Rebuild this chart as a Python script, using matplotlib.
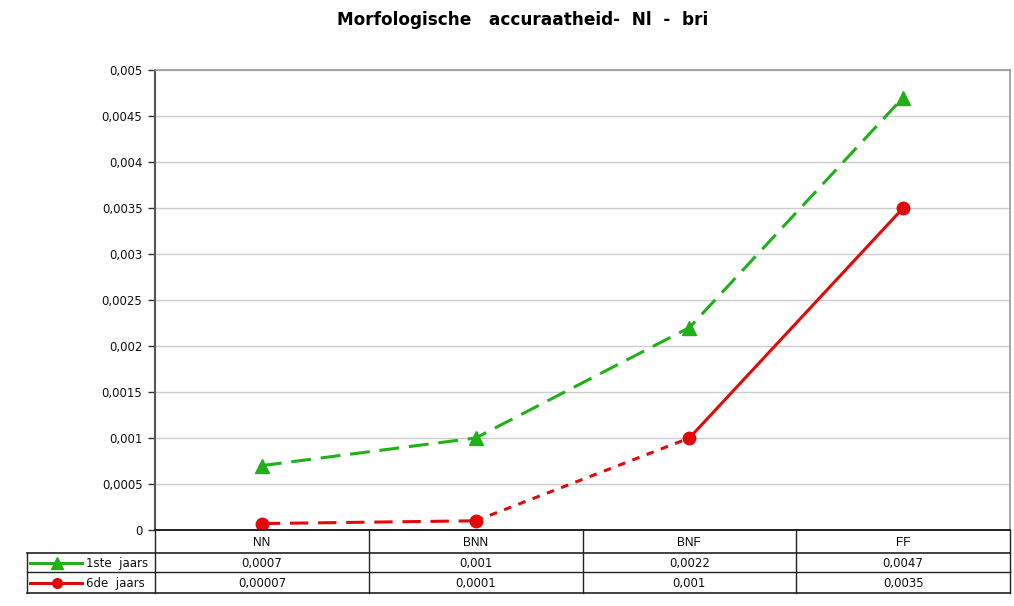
import matplotlib
matplotlib.use("Agg")
import matplotlib.pyplot as plt

plt.rcParams['font.family'] = ['Liberation Sans', 'DejaVu Sans']

title = "Morfologische   accuraatheid-  Nl  -  bri"
categories = ["NN", "BNN", "BNF", "FF"]
series_names = ["1ste  jaars", "6de  jaars"]
first_year = [0.0007, 0.001, 0.0022, 0.0047]
sixth_year = [0.00007, 0.0001, 0.001, 0.0035]
yticks = [0, 0.0005, 0.001, 0.0015, 0.002, 0.0025, 0.003, 0.0035, 0.004, 0.0045, 0.005]

GREEN = "#22B01A"
RED = "#E00A0A"
NUMFONT = ["DejaVu Sans"]

W, H = 1014, 606
fig = plt.figure(figsize=(W / 100, H / 100), dpi=100)

def fmt(v):
    if v == 0:
        return "0"
    s = f"{v:.5f}".rstrip("0").rstrip(".")
    return s.replace(".", ",")

# main axes
L, R, T, B = 155, 1010, 70, 530
ax = fig.add_axes([L / W, (H - B) / H, (R - L) / W, (B - T) / H])
x = list(range(len(categories)))
ax.set_xlim(-0.5, len(categories) - 0.5)
ax.set_ylim(0, 0.005)
ax.set_yticks(yticks)
ax.set_yticklabels([fmt(v) for v in yticks], fontsize=8.5, family=NUMFONT, color="#111111")
ax.set_xticks([])
ax.grid(axis="y", color="#cccccc", lw=1)
ax.set_axisbelow(True)
for s in ["top", "right"]:
    ax.spines[s].set_color("#999999")
    ax.spines[s].set_linewidth(1.2)
ax.spines["left"].set_color("#555555")
ax.spines["left"].set_linewidth(1.5)
ax.spines["bottom"].set_color("#222222")
ax.spines["bottom"].set_linewidth(1.2)
ax.tick_params(axis="y", length=5, width=1, color="#333333", pad=4)

# green series
ax.plot(x, first_year, color=GREEN, lw=2.2, linestyle=(0, (6.5, 3.2)),
        marker="^", markersize=10, markerfacecolor=GREEN, markeredgecolor=GREEN, zorder=3)

# red series with segment styles
ax.plot(x[0:2], sixth_year[0:2], color=RED, lw=2.2, linestyle=(0, (6, 3.2)), zorder=3)
ax.plot(x[1:3], sixth_year[1:3], color=RED, lw=2.2, linestyle=(0, (2.5, 2.5)), zorder=3)
ax.plot(x[2:4], sixth_year[2:4], color=RED, lw=2.2, linestyle="-", zorder=3)
ax.plot(x, sixth_year, linestyle="none", marker="o", markersize=9,
        markerfacecolor=RED, markeredgecolor=RED, zorder=4)

# title, fitted to the reference width
t = fig.text(337 / W, 1 - 20 / H, title, fontsize=11, fontweight="bold", ha="left", va="center",
             family=["DejaVu Sans"])
fig.canvas.draw()
wpx = t.get_window_extent().width
t.set_fontsize(11 * 370 / wpx)

# data table in pixel coords
ov = fig.add_axes([0, 0, 1, 1])
ov.set_xlim(0, W)
ov.set_ylim(H, 0)
ov.axis("off")
col_edges = [L + i * (R - L) / len(categories) for i in range(len(categories) + 1)]
rows_y = [530, 553, 572, 593]
lc = "#222222"
for xe in col_edges:
    ov.plot([xe, xe], [rows_y[0], rows_y[3]], color=lc, lw=1)
ov.plot([27, 27], [rows_y[1], rows_y[3]], color=lc, lw=1)
ov.plot([27, R], [rows_y[1], rows_y[1]], color=lc, lw=1.2)
ov.plot([27, R], [rows_y[2], rows_y[2]], color=lc, lw=1)
ov.plot([27, R], [rows_y[3], rows_y[3]], color=lc, lw=1.2)
ov.plot([L, R], [rows_y[0], rows_y[0]], color=lc, lw=1.2)

for i, c in enumerate(categories):
    cx = (col_edges[i] + col_edges[i + 1]) / 2
    ov.text(cx, (rows_y[0] + rows_y[1]) / 2 + 1, c, fontsize=8.5, ha="center", va="center")
    ov.text(cx, (rows_y[1] + rows_y[2]) / 2 + 1, fmt(first_year[i]), fontsize=8.5,
            ha="center", va="center", family=NUMFONT, color="#111111")
    ov.text(cx, (rows_y[2] + rows_y[3]) / 2 + 1, fmt(sixth_year[i]), fontsize=8.5,
            ha="center", va="center", family=NUMFONT, color="#111111")

for r, (name, col, mk) in enumerate([(series_names[0], GREEN, "^"), (series_names[1], RED, "o")]):
    yc = (rows_y[r + 1] + rows_y[r + 2]) / 2
    ov.plot([30, 82], [yc, yc], color=col, lw=2.2)
    ov.plot([57], [yc], marker=mk, color=col, markersize=8 if mk == "^" else 7)
    ov.text(86, yc + 1, name, fontsize=8.5, ha="left", va="center", family=NUMFONT, color="#111111")

fig.savefig("out.png", dpi=100)
